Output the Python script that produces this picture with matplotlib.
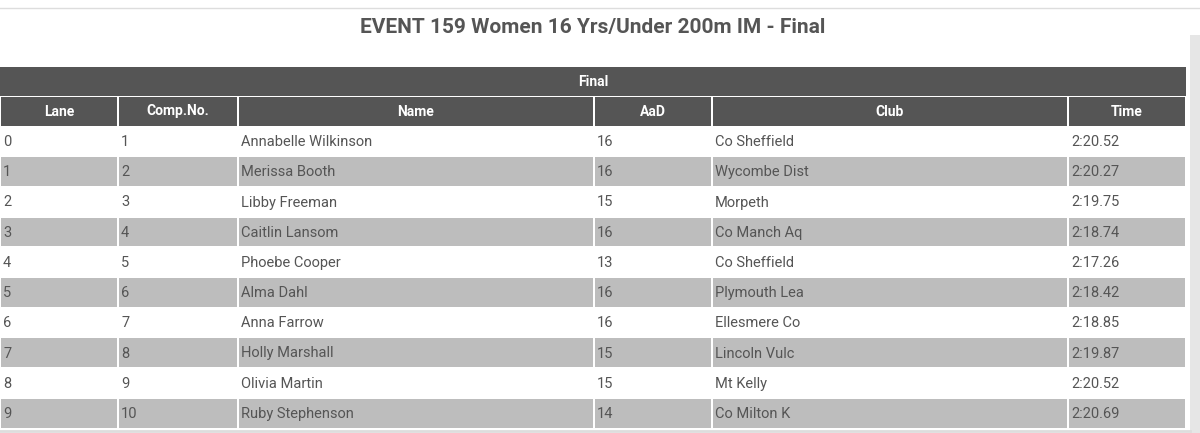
import matplotlib
matplotlib.use("Agg")
import matplotlib.pyplot as plt
from matplotlib.patches import Rectangle

plt.rcParams['font.family'] = ['Roboto', 'DejaVu Sans']

title = "EVENT 159 Women 16 Yrs/Under 200m IM - Final"
section = "Final"
headers = ["Lane", "Comp.No.", "Name", "AaD", "Club", "Time"]
lanes = ["0", "1", "2", "3", "4", "5", "6", "7", "8", "9"]
comp_no = ["1", "2", "3", "4", "5", "6", "7", "8", "9", "10"]
names = ["Annabelle Wilkinson", "Merissa Booth", "Libby Freeman", "Caitlin Lansom",
         "Phoebe Cooper", "Alma Dahl", "Anna Farrow", "Holly Marshall",
         "Olivia Martin", "Ruby Stephenson"]
aad = ["16", "16", "15", "16", "13", "16", "16", "15", "15", "14"]
clubs = ["Co Sheffield", "Wycombe Dist", "Morpeth", "Co Manch Aq", "Co Sheffield",
         "Plymouth Lea", "Ellesmere Co", "Lincoln Vulc", "Mt Kelly", "Co Milton K"]
times = ["2:20.52", "2:20.27", "2:19.75", "2:18.74", "2:17.26", "2:18.42",
         "2:18.85", "2:19.87", "2:20.52", "2:20.69"]

cols = [lanes, comp_no, names, aad, clubs, times]
col_edges = [0, 118, 238, 594, 712, 1068, 1186]

fig = plt.figure(figsize=(12, 4.33), dpi=100)
ax = fig.add_axes([0, 0, 1, 1])
ax.set_xlim(0, 1200)
ax.set_ylim(433, 0)
ax.axis('off')

txt = '#555555'
ax.plot([0, 1200], [8, 8], color='#dddddd', lw=1)
ax.text(593, 27, title, ha='center', va='center', fontsize=15, fontweight='bold', color=txt)

# section band
ax.add_patch(Rectangle((0, 67), 1186, 29, color='#555555', lw=0))
ax.text(593, 81.5, section, ha='center', va='center', fontsize=10, fontweight='bold', color='white')

# header row
for i, h in enumerate(headers):
    x0, x1 = col_edges[i], col_edges[i + 1]
    ax.add_patch(Rectangle((x0 + 1, 97), x1 - x0 - 2, 29, color='#555555', lw=0))
    ax.text((x0 + x1) / 2, 111.5, h, ha='center', va='center', fontsize=10,
            fontweight='bold', color='white')

row_h = 30.2
y0 = 127
for r in range(len(names)):
    top = y0 + r * row_h
    if r % 2 == 1:
        for i in range(len(headers)):
            x0, x1 = col_edges[i], col_edges[i + 1]
            ax.add_patch(Rectangle((x0 + 1, top), x1 - x0 - 2, row_h - 1.5, color='#bdbdbd', lw=0))
    for i, c in enumerate(cols):
        ax.text(col_edges[i] + 3, top + row_h / 2, c[r], ha='left', va='center',
                fontsize=10.5, color=txt)

ax.add_patch(Rectangle((1190, 35), 10, 398, color='#e6e6e6', lw=0))
ax.plot([0, 1190], [431, 431], color='#dddddd', lw=2)

fig.savefig("out.png", dpi=100)
